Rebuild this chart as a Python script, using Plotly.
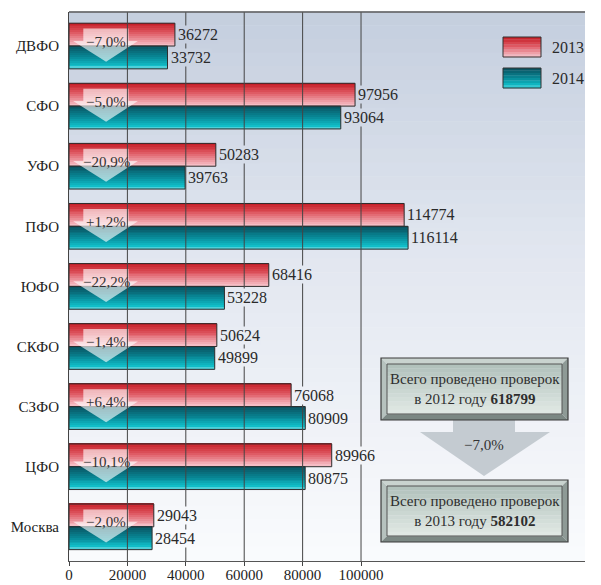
import plotly.graph_objects as go

# ---------------- data ----------------
categories = ["ДВФО", "СФО", "УФО", "ПФО", "ЮФО", "СКФО", "СЗФО", "ЦФО", "Москва"]
values_2013 = [36272, 97956, 50283, 114774, 68416, 50624, 76068, 89966, 29043]
values_2014 = [33732, 93064, 39763, 116114, 53228, 49899, 80909, 80875, 28454]
change_labels = ["−7,0%", "−5,0%", "−20,9%", "+1,2%", "−22,2%", "−1,4%", "+6,4%", "−10,1%", "−2,0%"]
x_ticks = [0, 20000, 40000, 60000, 80000, 100000]
series_names = ["2013", "2014"]
total_2012 = "618799"
total_2013 = "582102"
total_change = "−7,0%"

# ---------------- geometry / style ----------------
# page shows the figure offset by the 8px body margin; work in page pixels
OFF = 8
W, H = 601 - OFF, 585 - OFF
PL, PR, PT, PB = 69, 585, 12, 561          # plot area in page pixels
ML, MR, MT, MB = PL - OFF, W - (PR - OFF), PT - OFF, H - (PB - OFF)
PW, PH = PR - PL, PB - PT
XMAX = 176700
Y_RANGE = [8.569, -0.566]
BAR_H = 0.38
FONT = "Liberation Serif, Times New Roman, DejaVu Serif, serif"
N_STRIPS = 12


def px_x(px):
    return (px - PL) / PW


def px_y(py):
    return (PB - py) / PH


def lerp(c1, c2, t):
    return tuple(int(round(a + (b - a) * t)) for a, b in zip(c1, c2))


def multi(stops, t):
    for (p0, c0), (p1, c1) in zip(stops[:-1], stops[1:]):
        if t <= p1:
            return lerp(c0, c1, (t - p0) / (p1 - p0) if p1 > p0 else 0)
    return stops[-1][1]


def rgb(c):
    return "rgb(%d,%d,%d)" % c


red_stops = [(0, (196, 28, 36)), (0.4, (220, 80, 90)), (1, (248, 196, 204))]
teal_stops = [(0, (10, 78, 92)), (0.5, (8, 136, 150)), (0.92, (18, 196, 206)), (1, (140, 222, 228))]
bg_stops = [(0, (196, 206, 222)), (0.45, (226, 231, 240)), (1, (250, 251, 253))]

idx = list(range(len(categories)))
fig = go.Figure()

shapes = []
NB = 40
for k in range(NB):
    t = (k + 0.5) / NB
    shapes.append(dict(type="rect", xref="paper", yref="paper",
                       x0=0, x1=1, y0=1 - (k + 1) / NB, y1=1 - k / NB + 0.001,
                       fillcolor=rgb(multi(bg_stops, t)), line=dict(width=0), layer="below"))


def bg_at_y(yval):
    t = (yval - Y_RANGE[1]) / (Y_RANGE[0] - Y_RANGE[1])
    return rgb(multi(bg_stops, min(max(t, 0), 1)))


for vals, stops, base_off, name in [(values_2013, red_stops, -BAR_H, series_names[0]),
                                     (values_2014, teal_stops, 0.0, series_names[1])]:
    sw = BAR_H / N_STRIPS
    for k in range(N_STRIPS):
        t = (k + 0.5) / N_STRIPS
        fig.add_trace(go.Bar(x=vals, y=idx, orientation="h", width=sw * 1.02,
                             offset=base_off + k * sw,
                             marker=dict(color=rgb(multi(stops, t)), line=dict(width=0)),
                             showlegend=False, hoverinfo="skip", name=name))
    fig.add_trace(go.Bar(x=vals, y=idx, orientation="h", width=BAR_H, offset=base_off,
                         marker=dict(color="rgba(0,0,0,0)", line=dict(color="#2e2e2e", width=1)),
                         showlegend=False, name=name,
                         hovertemplate=name + ": %{x}<extra></extra>"))

AX_C, SH_L, SH_R, HD_L, HD_R = 12700, 4900, 20400, 1400, 23600
for i in idx:
    path = (f"M {SH_L},{i-0.29} L {SH_R},{i-0.29} L {SH_R},{i-0.085} L {HD_R},{i-0.085} "
            f"L {AX_C},{i+0.26} L {HD_L},{i-0.085} L {SH_L},{i-0.085} Z")
    shapes.append(dict(type="path", xref="x", yref="y", path=path,
                       fillcolor="rgba(255,255,255,0.62)", line=dict(width=0), layer="above"))

for v in x_ticks[1:]:
    shapes.append(dict(type="line", xref="x", yref="paper", x0=v, x1=v, y0=0, y1=1,
                       line=dict(color="#454545", width=1), layer="above"))

shapes.append(dict(type="line", xref="paper", yref="paper", x0=0, x1=1, y0=1, y1=1,
                   line=dict(color="#5a5a5a", width=1.5), layer="above"))

annotations = []
for i in idx:
    annotations.append(dict(x=AX_C, y=i - 0.075, xref="x", yref="y", text=change_labels[i],
                            showarrow=False, xanchor="center", yanchor="middle",
                            font=dict(family=FONT, size=15, color="#333333")))
    annotations.append(dict(x=values_2013[i], y=i - 0.19, xref="x", yref="y",
                            text=f"{values_2013[i]}", showarrow=False, xanchor="left",
                            yanchor="middle", xshift=2,
                            bgcolor=bg_at_y(i - 0.19), borderpad=0,
                            font=dict(family=FONT, size=16, color="#2a2a2a")))
    annotations.append(dict(x=values_2014[i], y=i + 0.19, xref="x", yref="y",
                            text=f"{values_2014[i]}", showarrow=False, xanchor="left",
                            yanchor="middle", xshift=2,
                            bgcolor=bg_at_y(i + 0.19), borderpad=0,
                            font=dict(family=FONT, size=16, color="#2a2a2a")))

for (top, stops, label) in [(37, red_stops, series_names[0]), (68, teal_stops, series_names[1])]:
    ns = 8
    for k in range(ns):
        t = (k + 0.5) / ns
        y0p = top + k * 20 / ns
        shapes.append(dict(type="rect", xref="paper", yref="paper",
                           x0=px_x(503), x1=px_x(541), y0=px_y(y0p + 20 / ns + 0.3), y1=px_y(y0p),
                           fillcolor=rgb(multi(stops, t)), line=dict(width=0), layer="above"))
    shapes.append(dict(type="rect", xref="paper", yref="paper",
                       x0=px_x(503), x1=px_x(541), y0=px_y(top + 20), y1=px_y(top),
                       fillcolor="rgba(0,0,0,0)", line=dict(color="#333333", width=1), layer="above"))
    annotations.append(dict(x=px_x(550), y=px_y(top + 10), xref="paper", yref="paper",
                            text=label, showarrow=False, xanchor="left", yanchor="middle",
                            font=dict(family=FONT, size=16, color="#2a2a2a")))


def bevel_box(x0, y0, x1, y1, b, text):
    ix0, iy0, ix1, iy1 = x0 + b, y0 + b, x1 - b, y1 - b

    def P(pts, col):
        d = "M " + " L ".join(f"{px_x(a)},{px_y(c)}" for a, c in pts) + " Z"
        shapes.append(dict(type="path", xref="paper", yref="paper", path=d,
                           fillcolor=col, line=dict(width=0), layer="above"))
    P([(x0, y0), (x1, y0), (ix1, iy0), (ix0, iy0)], "#c9d3cf")
    P([(x0, y0), (ix0, iy0), (ix0, iy1), (x0, y1)], "#b6c2be")
    P([(x1, y0), (x1, y1), (ix1, iy1), (ix1, iy0)], "#8e9a96")
    P([(x0, y1), (ix0, iy1), (ix1, iy1), (x1, y1)], "#7c8884")
    ns = 12
    for k in range(ns):
        t = (k + 0.5) / ns
        a = iy0 + (iy1 - iy0) * k / ns
        bb = iy0 + (iy1 - iy0) * (k + 1) / ns
        shapes.append(dict(type="rect", xref="paper", yref="paper",
                           x0=px_x(ix0), x1=px_x(ix1), y0=px_y(bb + 0.3), y1=px_y(a),
                           fillcolor=rgb(lerp((176, 192, 186), (226, 234, 230), t)),
                           line=dict(width=0), layer="above"))
    shapes.append(dict(type="rect", xref="paper", yref="paper",
                       x0=px_x(ix0), x1=px_x(ix1), y0=px_y(iy1), y1=px_y(iy0),
                       fillcolor="rgba(0,0,0,0)", line=dict(color="#555555", width=1), layer="above"))
    shapes.append(dict(type="rect", xref="paper", yref="paper",
                       x0=px_x(x0), x1=px_x(x1), y0=px_y(y1), y1=px_y(y0),
                       fillcolor="rgba(0,0,0,0)", line=dict(color="#3a3a3a", width=1.2), layer="above"))
    annotations.append(dict(x=px_x((x0 + x1) / 2), y=px_y((y0 + y1) / 2), xref="paper", yref="paper",
                            text=text, showarrow=False, align="center",
                            xanchor="center", yanchor="middle",
                            font=dict(family=FONT, size=15, color="#2e2e2e")))


d = ("M " + " L ".join(f"{px_x(a)},{px_y(c)}" for a, c in
                        [(453, 419), (515, 419), (515, 432), (550, 432), (484, 476), (420, 432), (453, 432)]) + " Z")
shapes.append(dict(type="path", xref="paper", yref="paper", path=d,
                   fillcolor="#c4cbd1", line=dict(width=0), layer="above"))
annotations.append(dict(x=px_x(484), y=px_y(445), xref="paper", yref="paper", text=total_change,
                        showarrow=False, xanchor="center", yanchor="middle",
                        font=dict(family=FONT, size=15, color="#333333")))

bevel_box(381, 358, 568, 420, 6, f"Всего проведено проверок<br>в 2012 году <b>{total_2012}</b>")
bevel_box(381, 480, 568, 542, 6, f"Всего проведено проверок<br>в 2013 году <b>{total_2013}</b>")

fig.update_layout(
    width=W, height=H,
    margin=dict(l=ML, r=MR, t=MT, b=MB, pad=0, autoexpand=False),
    paper_bgcolor="white", plot_bgcolor="rgb(250,251,253)",
    barmode="overlay", showlegend=False,
    shapes=shapes, annotations=annotations,
    font=dict(family=FONT, size=15, color="#222222"),
    xaxis=dict(range=[0, XMAX], tickvals=x_ticks, ticktext=[str(v) for v in x_ticks],
               showgrid=False, zeroline=False, showline=True, linecolor="#555555", linewidth=1,
               ticks="outside", ticklen=4, tickcolor="#444444", automargin=False,
               ticklabelstandoff=-4,
               tickfont=dict(family=FONT, size=15, color="#222222")),
    yaxis=dict(range=Y_RANGE, tickvals=idx, ticktext=categories, showgrid=False, zeroline=False,
               showline=True, linecolor="#444444", linewidth=1, ticks="", ticklabelstandoff=6,
               automargin=False,
               tickfont=dict(family=FONT, size=15, color="#222222")),
)

fig.write_html("out.html")
